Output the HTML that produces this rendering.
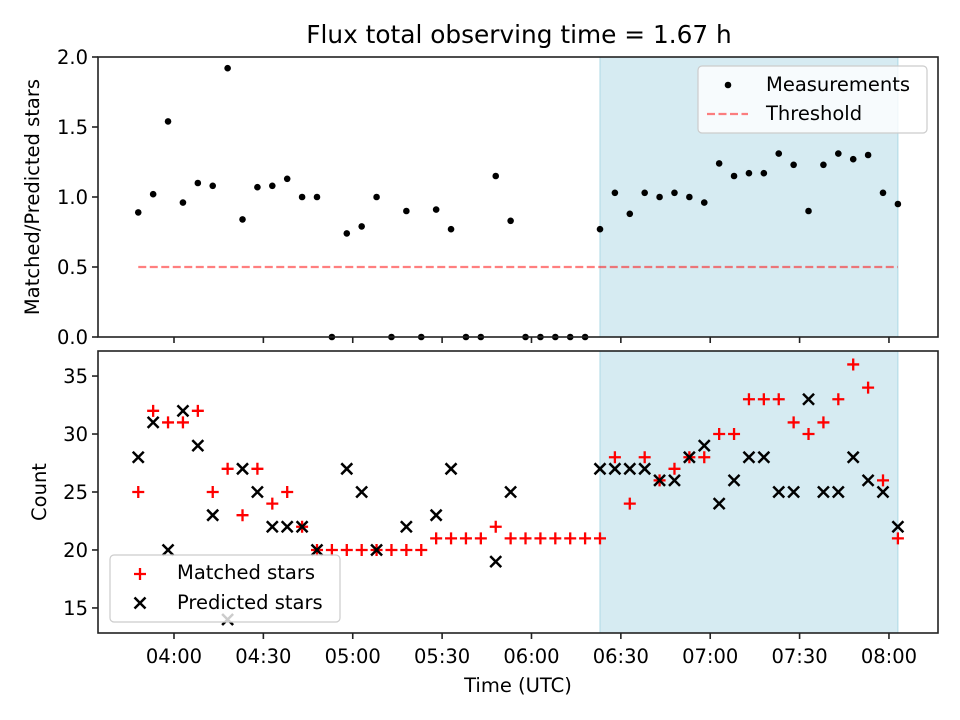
<!DOCTYPE html>
<html><head><meta charset="utf-8"><style>
html,body{margin:0;padding:0;background:#fff;}
svg{display:block;font-family:"DejaVu Sans","Liberation Sans",sans-serif;}
</style></head><body>
<svg id="chart" width="960" height="720" viewBox="0 0 960 720"></svg>
<script>
const times=["03:48","03:53","03:58","04:03","04:08","04:13","04:18","04:23","04:28","04:33","04:38","04:43","04:48","04:53","04:58","05:03","05:08","05:13","05:18","05:23","05:28","05:33","05:38","05:43","05:48","05:53","05:58","06:03","06:08","06:13","06:18","06:23","06:28","06:33","06:38","06:43","06:48","06:53","06:58","07:03","07:08","07:13","07:18","07:23","07:28","07:33","07:38","07:43","07:48","07:53","07:58","08:03"];
const ratio=[0.89,1.02,1.54,0.96,1.10,1.08,1.92,0.84,1.07,1.08,1.13,1.0,1.0,0,0.74,0.79,1.0,0,0.90,0,0.91,0.77,0,0,1.15,0.83,0,0,0,0,0,0.77,1.03,0.88,1.03,1.0,1.03,1.0,0.96,1.24,1.15,1.17,1.17,1.31,1.23,0.90,1.23,1.31,1.27,1.30,1.03,0.95];
const matched=[25,32,31,31,32,25,27,23,27,24,25,22,20,20,20,20,20,20,20,20,21,21,21,21,22,21,21,21,21,21,21,21,28,24,28,26,27,28,28,30,30,33,33,33,31,30,31,33,36,34,26,21];
const predicted=[28,31,20,32,29,23,14,27,25,22,22,22,20,null,27,25,20,null,22,null,23,27,null,null,19,25,null,null,null,null,null,27,27,27,27,26,26,28,29,24,26,28,28,25,25,33,25,25,28,26,25,22];
const threshold=[0.5];
const ratioTicks=[0,0.5,1.0,1.5,2.0];
const countTicks=[15,20,25,30,35];
const timeTicks=["04:00","04:30","05:00","05:30","06:00","06:30","07:00","07:30","08:00"];
const span=["06:23","08:03"];

const NS="http://www.w3.org/2000/svg";
const svg=document.getElementById('chart');
function mk(tag,attrs,parent){const e=document.createElementNS(NS,tag);for(const k in attrs)e.setAttribute(k,attrs[k]);(parent||svg).appendChild(e);return e;}
function mins(t){const p=t.split(':');return (+p[0])*60+(+p[1]);}
const L=98,R=938;
function x(t){return 174+(mins(t)-240)*2.979;}
const T1=57,B1=337,T2=351,B2=633;
function y1(v){return B1-(v-0)/2.0*(B1-T1);}
const cMin=12.84,cMax=37.16;
function y2(v){return B2-(v-cMin)/(cMax-cMin)*(B2-T2);}

let t=mk('text',{x:519,y:43,'text-anchor':'middle','font-size':24.8,fill:'#000'});t.textContent='Flux total observing time = 1.67 h';



function panel(top,bot,name){
  const g=mk('g',{});
  
  
  const s=mk('rect',{x:x(span[0]),y:top,width:x(span[1])-x(span[0]),height:bot-top,fill:'#add8e6','fill-opacity':0.5,stroke:'#add8e6','stroke-width':1},g);
  
  
  return g;
}
const g1=panel(T1,B1,'top-panel');
const g2=panel(T2,B2,'bottom-panel');

const th=mk('line',{x1:x(times[0]),x2:x(times[times.length-1]),y1:y1(threshold[0]),y2:y1(threshold[0]),stroke:'#ff0000','stroke-opacity':0.5,'stroke-width':2.2,'stroke-dasharray':'8,3.5'},g1);



ratio.forEach((v,i)=>{const c=mk('circle',{cx:x(times[i]),cy:y1(v),r:3.3,fill:'#000'},g1);

});

function plus(cx,cy,g){return mk('path',{d:`M${cx-6},${cy}H${cx+6}M${cx},${cy-6}V${cy+6}`,stroke:'#ff0000','stroke-width':2.3,fill:'none'},g);}
function cross(cx,cy,g){return mk('path',{d:`M${cx-5.5},${cy-5.5}L${cx+5.5},${cy+5.5}M${cx-5.5},${cy+5.5}L${cx+5.5},${cy-5.5}`,stroke:'#000','stroke-width':2.5,fill:'none'},g);}
matched.forEach((v,i)=>{const p=plus(x(times[i]),y2(v),g2);

});
predicted.forEach((v,i)=>{if(v===null)return;const p=cross(x(times[i]),y2(v),g2);

});

[[T1,B1,'top-axes-frame'],[T2,B2,'bottom-axes-frame']].forEach(a=>{const r=mk('rect',{x:L,y:a[0],width:R-L,height:a[1]-a[0],fill:'none',stroke:'#222','stroke-width':1.6});

});

ratioTicks.forEach(v=>{const yy=y1(v);mk('line',{x1:L-6,x2:L,y1:yy,y2:yy,stroke:'#222','stroke-width':1.6});
const tx=mk('text',{x:L-10,y:yy+7,'text-anchor':'end','font-size':19.5,fill:'#000'});tx.textContent=v.toFixed(1);

});
countTicks.forEach(v=>{const yy=y2(v);mk('line',{x1:L-6,x2:L,y1:yy,y2:yy,stroke:'#222','stroke-width':1.6});
const tx=mk('text',{x:L-10,y:yy+7,'text-anchor':'end','font-size':19.5,fill:'#000'});tx.textContent=v;

});
timeTicks.forEach(tt=>{const xx=x(tt);
mk('line',{x1:xx,x2:xx,y1:B1,y2:B1+6,stroke:'#222','stroke-width':1.6});
mk('line',{x1:xx,x2:xx,y1:B2,y2:B2+6,stroke:'#222','stroke-width':1.6});
const tx=mk('text',{x:xx,y:663,'text-anchor':'middle','font-size':19.5,fill:'#000'});tx.textContent=tt;

});

let a=mk('text',{x:0,y:0,'text-anchor':'middle','font-size':19.5,transform:`translate(39,${(T1+B1)/2}) rotate(-90)`});a.textContent='Matched/Predicted stars';


a=mk('text',{x:0,y:0,'text-anchor':'middle','font-size':19.5,transform:`translate(46,${(T2+B2)/2}) rotate(-90)`});a.textContent='Count';


a=mk('text',{x:518,y:692,'text-anchor':'middle','font-size':19.5});a.textContent='Time (UTC)';



let lg=mk('g',{});


mk('rect',{x:698,y:66,width:229,height:67,rx:4,fill:'#fff','fill-opacity':0.8,stroke:'#ccc','stroke-width':1.2},lg);
mk('circle',{cx:728,cy:85,r:3.3,fill:'#000'},lg);
let e=mk('text',{x:766,y:91,'font-size':19.5},lg);e.textContent='Measurements';


mk('line',{x1:707,x2:748,y1:114,y2:114,stroke:'#ff0000','stroke-opacity':0.5,'stroke-width':2.2,'stroke-dasharray':'8,3.5'},lg);
e=mk('text',{x:766,y:120,'font-size':19.5},lg);e.textContent='Threshold';



lg=mk('g',{});


mk('rect',{x:110,y:555,width:230,height:67,rx:4,fill:'#fff','fill-opacity':0.8,stroke:'#ccc','stroke-width':1.2},lg);
plus(140,574,lg);
e=mk('text',{x:177,y:579,'font-size':19.5},lg);e.textContent='Matched stars';


cross(140,603,lg);
e=mk('text',{x:177,y:609,'font-size':19.5},lg);e.textContent='Predicted stars';


</script>
</body></html>
